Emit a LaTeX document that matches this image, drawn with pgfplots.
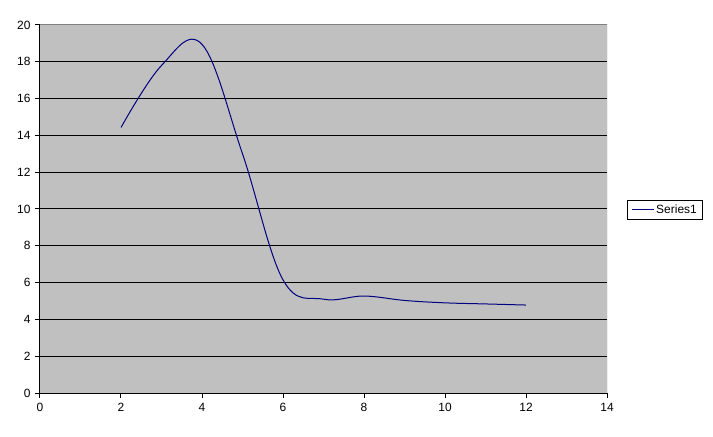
\documentclass[border=0pt]{standalone}
\usepackage{pgfplots}
\pgfplotsset{compat=1.18}
\usepackage{fontspec}
\setmainfont{Liberation Sans}
\definecolor{plotbg}{RGB}{192,192,192}
\definecolor{series}{RGB}{0,0,128}
\definecolor{border}{RGB}{128,128,128}
\begin{document}
\begin{tikzpicture}
\path[use as bounding box] (-40bp,-44bp) rectangle (673bp,393bp);
\begin{axis}[
  scale only axis, width=567bp, height=368bp,
  xmin=0, xmax=14, ymin=0, ymax=20,
  xtick={0,2,...,14}, ytick={0,2,...,20},
  axis background/.style={fill=plotbg},
  axis lines*=left,
  axis line style={black, line width=1bp},
  ymajorgrids, major grid style={black, line width=1bp},
  tick align=outside, major tick length=5bp,
  tick style={black, line width=1bp},
  xtick pos=bottom, ytick pos=left,
  tick label style={font=\fontsize{12}{14}\selectfont},
  /pgf/number format/assume math mode=true,
  xticklabel style={yshift=-2bp},
  yticklabel style={xshift=-1bp},
  legend style={at={(1.035,0.4986)}, anchor=west, draw=black, fill=white,
    font=\fontsize{12}{14}\selectfont, inner xsep=4bp, inner ysep=2.5bp,
    line width=0.8bp},
  legend cell align=left,
  legend image code/.code={\draw[#1] (0bp,0bp) -- (22bp,0bp);},
]
\addplot[series, line width=1bp, smooth, tension=0.62] coordinates {
  (2,14.43) (3,17.8) (4,18.95) (5,13.0) (6,6.15) (7,5.1) (8,5.27)
  (9,5.03) (10,4.9) (11,4.84) (12,4.78)
};
\addlegendentry{Series1}
\draw[border, line width=1bp] (rel axis cs:0,1) -- (rel axis cs:1,1) -- (rel axis cs:1,0);
\end{axis}
\end{tikzpicture}
\end{document}
